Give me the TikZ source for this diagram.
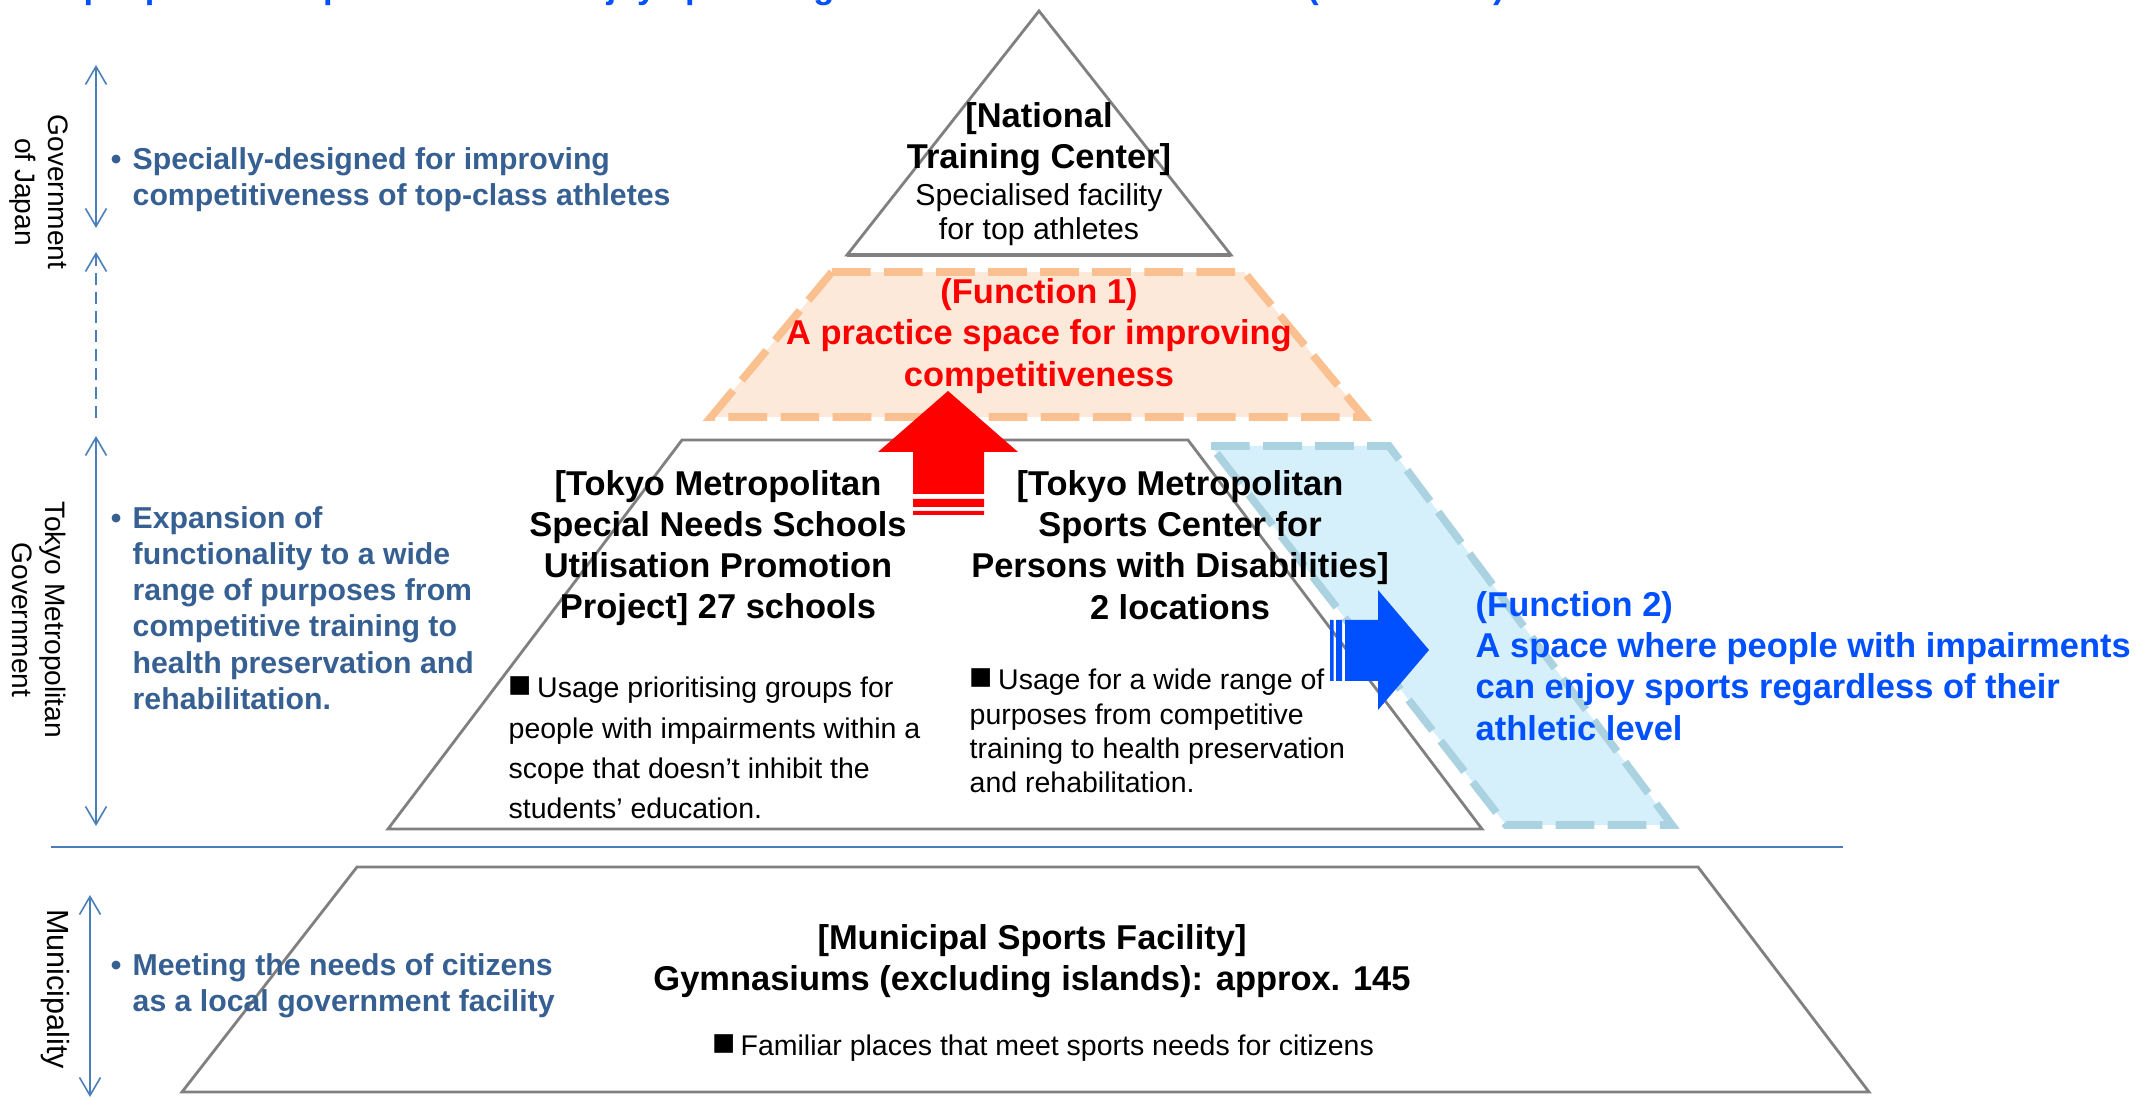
\documentclass[tikz,border=0pt]{standalone}
\usepackage{fontspec}
\setmainfont{Liberation Sans}
\usepackage{tikz}
\usetikzlibrary{arrows.meta,positioning}

\definecolor{pyrgray}{RGB}{128,128,128}
\definecolor{tierblue}{RGB}{74,126,187}
\definecolor{notecol}{RGB}{55,96,146}
\definecolor{fnred}{RGB}{255,0,0}
\definecolor{fnblue}{RGB}{0,80,255}
\definecolor{peachfill}{RGB}{253,233,217}
\definecolor{peachline}{RGB}{250,192,144}
\definecolor{cyanfill}{RGB}{213,240,250}
\definecolor{cyanline}{RGB}{170,210,225}

\newcommand{\sqmark}{\scalebox{1.35}{■}\hspace{1.5pt}}

\begin{document}
\begin{tikzpicture}[x=0.01cm,y=-0.01cm,
    level/.style={draw=pyrgray,line width=0.8pt,fill=white},
    funcarea/.style={line width=2.2pt,dash pattern=on 11pt off 3.8pt},
    tierarrow/.style={draw=tierblue,line width=0.45pt,>={Straight Barb[length=1.8mm,width=2.1mm]}},
    tier/.style={rotate=-90,align=center,inner sep=0pt,font=\fontsize{8}{9.4}\selectfont},
    note/.style={notecol,align=left,anchor=west,inner sep=0pt,font=\bfseries\fontsize{8.6}{10.3}\selectfont},
    heading/.style={align=center,inner sep=0pt,font=\bfseries\fontsize{9.8}{11.7}\selectfont},
    usage/.style={align=left,anchor=west,inner sep=0pt,font=\fontsize{8.1}{11.5}\selectfont}]

  \useasboundingbox (0,0) rectangle (2152,1098);
  \clip (0,0) rectangle (2152,1098);

  % pyramid levels
  \draw[level] (357,867) -- (1698,867) -- (1869,1092) -- (182,1092) -- cycle;
  \draw[level] (682,440) -- (1188,440) -- (1482,829) -- (388,829) -- cycle;
  \draw[funcarea,fill=cyanfill,draw=cyanline] (1211,446) -- (1389,446) -- (1672,825) -- (1506,825) -- cycle;
  \draw[level] (1039,11) -- (1231,255) -- (847,255) -- cycle;
  \draw[pyrgray,line width=1.2pt] (847,255) -- (1231,255);
  \draw[funcarea,fill=peachfill,draw=peachline] (832,272) -- (1244,272) -- (1364,417) -- (711,417) -- cycle;

  % function arrows
  \fill[fnred] (913,494) -- (913,452) -- (878,452) -- (948,391) -- (1018,452) -- (984,452) -- (984,494) -- cycle;
  \fill[fnred] (913,499) rectangle (984,507) (913,511) rectangle (984,515);
  \fill[fnblue] (1345,620) -- (1378,620) -- (1378,590) -- (1429,650) -- (1378,710) -- (1378,681) -- (1345,681) -- cycle;
  \fill[fnblue] (1336,620) rectangle (1342,681) (1330,620) rectangle (1333.5,681);

  \draw[tierblue,line width=0.7pt] (51,847) -- (1843,847);

  % tiers on the left
  \coordinate (gjtop) at (96,65);
  \coordinate (gjbot) at (96,228);
  \coordinate (linktop) at (96,252);
  \coordinate (linkbot) at (96,424);
  \coordinate (tmgtop) at (96,436);
  \coordinate (tmgbot) at (96,826);
  \coordinate (munitop) at (90,895);
  \coordinate (munibot) at (90,1097);
  \draw[tierarrow,<->] (gjtop) -- (gjbot);
  \draw[tierarrow,<-,dash pattern=on 3.4pt off 2pt] (linktop) -- (linkbot);
  \draw[tierarrow,<->] (tmgtop) -- (tmgbot);
  \draw[tierarrow,<->] (munitop) -- (munibot);

  \node[tier] (gjlabel) at (39,192) {Government\\of Japan};
  \node[tier] (tmglabel) at (39,620) {Tokyo Metropolitan\\Government};
  \node[tier,font=\fontsize{8.7}{9.4}\selectfont] (munilabel) at (55,989) {Municipality};

  \node[note] (gjnote) at (132,180) {\llap{•\hspace{3.2pt}}Specially-designed for improving\\competitiveness of top-class athletes};
  \node[note] (tmgnote) at (132,608) {\llap{•\hspace{3.2pt}}Expansion of\\functionality to a wide\\range of purposes from\\competitive training to\\health preservation and\\rehabilitation.};
  \node[note] (muninote) at (132,986) {\llap{•\hspace{3.2pt}}Meeting the needs of citizens\\as a local government facility};

  % texts in the pyramid
  \node[anchor=base west,inner sep=0pt,fnblue,font=\bfseries\fontsize{9.8}{11.7}\selectfont] (title) at (83,-1) {people with impairments can enjoy sports regardless of their athletic level (Function 2)};
  \node[heading] (ntc) at (1039,139) {[National\\Training Center]};
  \node[align=center,inner sep=0pt,font=\fontsize{8.6}{9.8}\selectfont] (spec) [below=0.06cm of ntc] {Specialised facility\\for top athletes};
  \node[heading,fnred] (fn1) at (1039,336) {(Function 1)\\A practice space for improving\\competitiveness};
  \node[heading] (sns) at (718,548) {[Tokyo Metropolitan\\Special Needs Schools\\Utilisation Promotion\\Project] 27 schools};
  \node[heading] (spc) at (1180,545) {[Tokyo Metropolitan\\Sports Center for\\Persons with Disabilities]\\2 locations};
  \node[usage] (snsuse) at (508,748) {\sqmark Usage prioritising groups for\\people with impairments within a\\scope that doesn’t inhibit the\\students’ education.};
  \node[usage,font=\fontsize{8.1}{9.8}\selectfont] (spcuse) at (969,731) {\sqmark Usage for a wide range of\\purposes from competitive\\training to health preservation\\and rehabilitation.};
  \node[heading,fnblue,align=left,anchor=west] (fn2) at (1475,666) {(Function 2)\\A space where people with impairments\\can enjoy sports regardless of their\\athletic level};
  \node[heading] (msf) at (1032,961) {[Municipal Sports Facility]\\Gymnasiums (excluding islands): approx. 145};
  \node[usage,anchor=center] (familiar) at (1043,1048) {\sqmark Familiar places that meet sports needs for citizens};
\end{tikzpicture}
\end{document}
